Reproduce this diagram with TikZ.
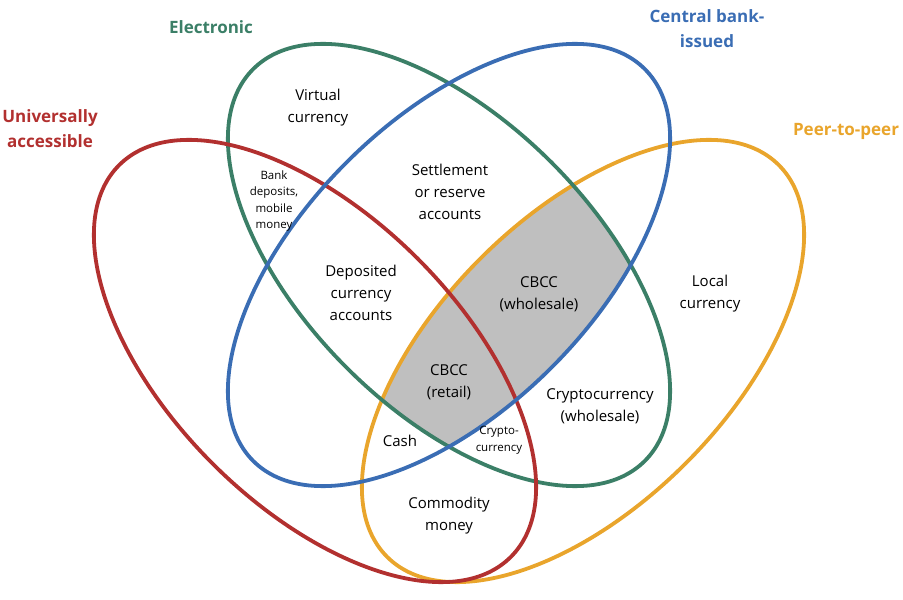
\documentclass[tikz,border=0pt]{standalone}
\usepackage{fontspec}
\setmainfont{Open Sans}
\definecolor{cred}{HTML}{B2302F}
\definecolor{cgreen}{HTML}{3B7F67}
\definecolor{cblue}{HTML}{3A6DB4}
\definecolor{corange}{HTML}{E9A52C}
\definecolor{cgray}{HTML}{BFBFBF}
\begin{document}
\begin{tikzpicture}[x=1pt,y=1pt,
  ring/.style={line width=3.8pt},
  lbl/.style={align=center,inner sep=0pt,font=\fontsize{15}{22}\selectfont},
  small/.style={align=center,inner sep=0pt,font=\fontsize{11.5}{16.5}\selectfont},
  title/.style={align=center,inner sep=0pt,font=\fontsize{17}{25}\selectfont\bfseries}]
\useasboundingbox (0,0) rectangle (903,600);
% shaded region: electronic & central bank & peer-to-peer
\begin{scope}
  \clip (449,335) ellipse [x radius=277pt, y radius=145pt, rotate=-45];
  \clip (449,335) ellipse [x radius=277pt, y radius=145pt, rotate=45];
  \fill[cgray] (583,239) ellipse [x radius=277pt, y radius=145pt, rotate=45];
\end{scope}
% ellipses
\draw[ring,corange] (583,239) ellipse [x radius=277pt, y radius=145pt, rotate=45];
\draw[ring,cgreen] (449,335) ellipse [x radius=277pt, y radius=145pt, rotate=-45];
\draw[ring,cred] (315,239) ellipse [x radius=277pt, y radius=145pt, rotate=-45];
\draw[ring,cblue] (449,335) ellipse [x radius=277pt, y radius=145pt, rotate=45];
% titles
\node[title,text=cgreen] (tE) at (211,573) {Electronic};
\node[title,text=cblue] (tC) at (707,571) {Central bank-\\issued};
\node[title,text=cred] (tU) at (50,471) {Universally\\accessible};
\node[title,text=corange] (tP) at (846,469) {Peer-to-peer};
% region labels
\node[lbl] (vc) at (318,492) {Virtual\\currency};
\node[lbl] (sr) at (450,408) {Settlement\\or reserve\\accounts};
\node[small] (bd) at (274,399) {Bank\\deposits,\\mobile\\money};
\node[lbl] (dc) at (361,307) {Deposited\\currency\\accounts};
\node[lbl] (cw) at (539,306) {CBCC\\(wholesale)};
\node[lbl] (lc) at (710,306) {Local\\currency};
\node[lbl] (cr) at (449,218) {CBCC\\(retail)};
\node[lbl] (cyw) at (600,194) {Cryptocurrency\\(wholesale)};
\node[lbl] (cash) at (400,159) {Cash};
\node[small] (cy) at (499,160) {Crypto-\\currency};
\node[lbl] (cm) at (449,84) {Commodity\\money};
\end{tikzpicture}
\end{document}
